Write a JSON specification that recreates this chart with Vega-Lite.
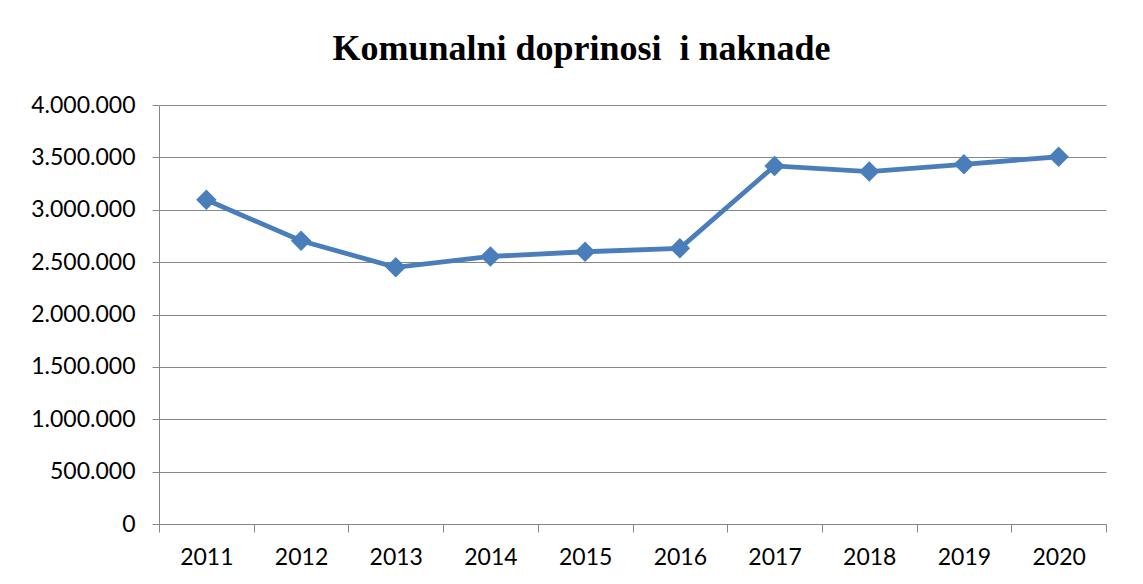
{
  "$schema": "https://vega.github.io/schema/vega-lite/v6.json",
  "autosize": "none",
  "width": 947,
  "height": 419,
  "padding": {"left": 159, "top": 105, "right": 37, "bottom": 60},
  "background": "white",
  "config": {
    "locale": {"number": {"decimal": ",", "thousands": ".", "grouping": [3], "currency": ["", ""]}},
    "view": {"stroke": null},
    "axis": {"labelFont": "Lato", "labelColor": "#000000", "labelFontSize": 23, "domainColor": "#868686", "tickColor": "#868686", "gridColor": "#868686", "domainWidth": 1, "tickWidth": 1, "gridWidth": 1}
  },
  "title": {
    "text": "Komunalni doprinosi\u00a0 i naknade",
    "font": "Liberation Serif",
    "fontSize": 36,
    "fontWeight": "bold",
    "color": "#000000",
    "anchor": "middle",
    "dx": -51,
    "offset": 26
  },
  "data": {
    "values": [
      {"year": "2011", "value": 3095000},
      {"year": "2012", "value": 2704000},
      {"year": "2013", "value": 2450000},
      {"year": "2014", "value": 2554000},
      {"year": "2015", "value": 2599000},
      {"year": "2016", "value": 2632000},
      {"year": "2017", "value": 3418000},
      {"year": "2018", "value": 3364000},
      {"year": "2019", "value": 3434000},
      {"year": "2020", "value": 3506000}
    ]
  },
  "encoding": {
    "x": {
      "field": "year", "type": "ordinal",
      "scale": {"type": "band", "paddingInner": 0, "paddingOuter": 0},
      "axis": {"title": null, "labelAngle": 0, "tickBand": "extent", "tickSize": 8, "labelPadding": 14, "grid": false}
    },
    "y": {
      "field": "value", "type": "quantitative",
      "scale": {"domain": [0, 4000000], "nice": false},
      "axis": {"title": null, "values": [0, 500000, 1000000, 1500000, 2000000, 2500000, 3000000, 3500000, 4000000], "format": ",d", "tickSize": 7, "labelPadding": 17, "grid": true}
    }
  },
  "layer": [
    {"mark": {"type": "line", "color": "#4A7EBB", "strokeWidth": 4.8}},
    {"mark": {"type": "point", "shape": "diamond", "filled": true, "opacity": 1, "color": "#4A7EBB", "size": 420}}
  ]
}
